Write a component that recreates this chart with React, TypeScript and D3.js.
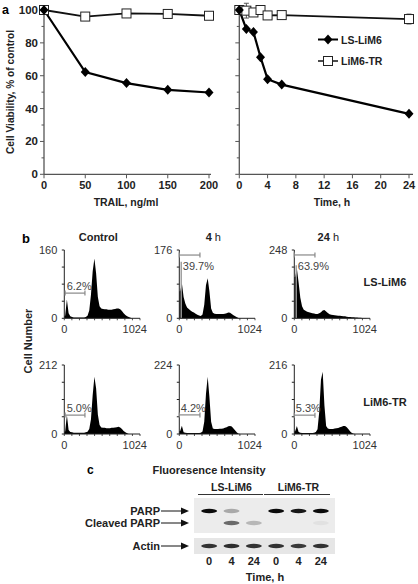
import React from 'react';
import * as d3 from 'd3';

// ---------- Panel a data ----------
const doses = [0, 50, 100, 150, 200];
const doseLS = [100, 62.2, 55.5, 51.4, 49.8];
const doseLSErr = [0, 1.2, 1.2, 1.6, 1.2];
const doseTR = [100, 96, 97.9, 97.6, 96.5];
const doseTRErr = [0, 1, 1, 1, 1];
const times = [0, 1, 2, 3, 4, 6, 24];
const timeLS = [100, 88.4, 86.6, 71.3, 57.9, 54.6, 36.8];
const timeLSErr = [0, 1, 1, 1.5, 1.5, 1, 1.5];
const timeTR = [100, 99.6, 98.5, 100, 96.7, 96.9, 94.5];
const timeTRErr = [0, 4.5, 2, 1, 1.5, 1.5, 3];
const viabilityTicks = [0, 20, 40, 60, 80, 100];
const doseTicks = [0, 50, 100, 150, 200];
const timeTicks = [0, 4, 8, 12, 16, 20, 24];
const seriesNames = ['LS-LiM6', 'LiM6-TR'];

// ---------- Panel b data (DNA content histograms, 25-channel bins) ----------
const histBin = 25;
const histDomainMax = 1100;
const histColTitles = ['Control', '4', '24'];
const histRowLabels = ['LS-LiM6', 'LiM6-TR'];
const histLSControl = [6, 44, 12, 5, 3, 2, 2, 2, 2, 2, 2, 2, 3, 6, 18, 55, 110, 140, 105, 50, 28, 23, 22, 21, 21, 20, 20, 20, 21, 22, 23, 23, 21, 17, 12, 8, 5, 3, 1, 0, 0, 0, 0, 0];
const histLS4h = [70, 90, 55, 38, 28, 24, 20, 17, 15, 12, 9, 7, 6, 10, 35, 85, 103, 70, 25, 14, 12, 11, 11, 11, 11, 11, 12, 13, 15, 14, 11, 8, 5, 3, 1, 0, 0, 0, 0, 0, 0, 0, 0, 0];
const histLS24h = [150, 180, 130, 75, 44, 31, 27, 24, 22, 20, 18, 17, 16, 16, 18, 22, 28, 30, 25, 19, 15, 13, 12, 11, 10, 9, 9, 8, 7, 7, 6, 5, 5, 4, 4, 3, 3, 2, 2, 1, 1, 1, 0, 0];
const histTRControl = [8, 58, 12, 6, 5, 4, 4, 4, 4, 4, 4, 4, 5, 7, 15, 45, 120, 176, 140, 60, 28, 20, 19, 19, 18, 18, 18, 19, 19, 20, 21, 22, 20, 15, 9, 5, 2, 0, 0, 0, 0, 0, 0, 0];
const histTR4h = [10, 27, 6, 4, 3, 3, 3, 3, 3, 3, 3, 3, 4, 8, 40, 130, 186, 120, 40, 18, 16, 16, 16, 17, 17, 18, 20, 22, 25, 26, 24, 18, 11, 5, 1, 0, 0, 0, 0, 0, 0, 0, 0, 0];
const histTR24h = [9, 25, 6, 4, 3, 3, 3, 3, 3, 3, 3, 4, 6, 15, 70, 170, 195, 90, 25, 17, 16, 16, 16, 17, 18, 19, 21, 23, 25, 25, 21, 15, 8, 3, 1, 0, 0, 0, 0, 0, 0, 0, 0, 0];
const histLS = [histLSControl, histLS4h, histLS24h];
const histTR = [histTRControl, histTR4h, histTR24h];
const histMaxLS = [160, 176, 248];
const histMaxTR = [212, 224, 216];
const histPctLS = ['6.2%', '39.7%', '63.9%'];
const histPctTR = ['5.0%', '4.2%', '5.3%'];
const gateStartLS = [12, 0, 0];
const gateStartTR = [12, 0, 0];
const gateEnd = 300;
const gateLevelLS = [59, 163, 230];
const gateLevelTR = [58, 62, 59];
const spikeLS = [0, 146, 193];
const spikeTR = [0, 0, 0];

// ---------- Panel c data (western blot) ----------
const laneTimes = ['0', '4', '24', '0', '4', '24'];
const parpBand = [0.95, 0.28, 0, 0.95, 0.9, 0.95];
const cleavedBand = [0, 0.55, 0.22, 0, 0, 0.04];
const actinBand = [0.78, 0.8, 0.78, 0.78, 0.75, 0.78];

const FONT = 'Liberation Sans, Arial, Helvetica, sans-serif';

function Diamond({ x, y }: { x: number; y: number }) {
  return <path d={`M${x},${y - 5}L${x + 4.5},${y}L${x},${y + 5}L${x - 4.5},${y}Z`} fill="#000" />;
}
function Square({ x, y }: { x: number; y: number }) {
  return <rect x={x - 4.5} y={y - 4.5} width={9} height={9} fill="#fff" stroke="#222" strokeWidth={1} />;
}

function LinePanel({ xs, xScale, yScale, ls, lsErr, tr, trErr, xTicks, xEnd, showYLabels }: any) {
  const line = d3.line<number>().x((_, i) => xScale(xs[i])).y((d) => yScale(d));
  const x0 = xScale(0);
  const y0 = yScale(0);
  const minor = d3.range(0, 101, 10);
  return (
    <g>
      {/* error bars */}
      {tr.map((v: number, i: number) =>
        trErr[i] > 0 ? (
          <g key={'te' + i} stroke="#555" strokeWidth={1}>
            <line x1={xScale(xs[i])} x2={xScale(xs[i])} y1={yScale(v - trErr[i])} y2={yScale(v + trErr[i])} />
            <line x1={xScale(xs[i]) - 2.5} x2={xScale(xs[i]) + 2.5} y1={yScale(v + trErr[i])} y2={yScale(v + trErr[i])} />
            <line x1={xScale(xs[i]) - 2.5} x2={xScale(xs[i]) + 2.5} y1={yScale(v - trErr[i])} y2={yScale(v - trErr[i])} />
          </g>
        ) : null
      )}
      {ls.map((v: number, i: number) =>
        lsErr[i] > 0 ? (
          <g key={'le' + i} stroke="#333" strokeWidth={1}>
            <line x1={xScale(xs[i])} x2={xScale(xs[i])} y1={yScale(v - lsErr[i])} y2={yScale(v + lsErr[i])} />
          </g>
        ) : null
      )}
      <path d={line(tr) || ''} fill="none" stroke="#111" strokeWidth={1.8} />
      <path d={line(ls) || ''} fill="none" stroke="#000" strokeWidth={2.2} />
      {/* axes */}
      <line x1={x0} x2={x0} y1={y0} y2={yScale(100) - 4} stroke="#555" strokeWidth={1.3} />
      <line x1={x0} x2={xEnd} y1={y0} y2={y0} stroke="#555" strokeWidth={1.3} />
      {minor.map((t) => (
        <line key={'yt' + t} x1={x0 - (t % 20 === 0 ? 4 : 2.5)} x2={x0} y1={yScale(t)} y2={yScale(t)} stroke="#555" strokeWidth={1} />
      ))}
      {showYLabels &&
        viabilityTicks.map((t) => (
          <text key={'yl' + t} x={x0 - 6} y={yScale(t) + 4} textAnchor="end" fontSize={11.5} fontWeight="bold" fill="#222">
            {t}
          </text>
        ))}
      {xTicks.map((t: number) => (
        <g key={'xt' + t}>
          <line x1={xScale(t)} x2={xScale(t)} y1={y0} y2={y0 + 4} stroke="#555" strokeWidth={1} />
          <text x={xScale(t)} y={y0 + 15} textAnchor="middle" fontSize={11} fontWeight="bold" fill="#222">
            {t}
          </text>
        </g>
      ))}
      {tr.map((v: number, i: number) => (
        <Square key={'sq' + i} x={xScale(xs[i])} y={yScale(v)} />
      ))}
      {ls.map((v: number, i: number) => (
        <Diamond key={'dm' + i} x={xScale(xs[i])} y={yScale(v)} />
      ))}
    </g>
  );
}

function Histogram({ left, top, bottom, data, max, pct, gateStart, gateLevel, spike }: any) {
  const width = 75.7;
  const x = d3.scaleLinear([0, histDomainMax], [left, left + width]);
  const y = d3.scaleLinear([0, max], [bottom, top]);
  const pts: [number, number][] = [[0, data[0]]];
  data.forEach((v: number, i: number) => pts.push([i * histBin + histBin / 2, v]));
  pts.push([data.length * histBin, 0]);
  const area = d3
    .area<[number, number]>()
    .x((d) => x(d[0]))
    .y0(y(0))
    .y1((d) => y(d[1]));
  const below = gateLevel > max * 0.6;
  const ticksX = d3.range(0, histDomainMax + 1, 110);
  const ticksY = d3.range(0, 5).map((k) => (max * k) / 4);
  return (
    <g fontFamily={FONT}>
      <path d={area(pts) || ''} fill="#000" />
      {spike > 0 && <line x1={x(28)} x2={x(28)} y1={y(0)} y2={y(spike)} stroke="#9a9a9a" strokeWidth={1.4} />}
      <line x1={left} x2={left} y1={bottom} y2={top} stroke="#222" strokeWidth={1} />
      <line x1={left} x2={left + width} y1={bottom} y2={bottom} stroke="#222" strokeWidth={1} />
      {ticksY.map((t, k) => (
        <line key={'ty' + k} x1={left - 2.5} x2={left} y1={y(t)} y2={y(t)} stroke="#222" strokeWidth={1} />
      ))}
      {ticksX.map((t) => (
        <line key={'tx' + t} x1={x(t)} x2={x(t)} y1={bottom} y2={bottom + 2} stroke="#222" strokeWidth={0.8} />
      ))}
      <text x={left - 7} y={top + 4} textAnchor="end" fontSize={11} fill="#333">{max}</text>
      <text x={left - 7} y={bottom + 4} textAnchor="end" fontSize={11} fill="#333">0</text>
      <text x={x(0)} y={bottom + 15} textAnchor="middle" fontSize={11} fill="#333">0</text>
      <text x={x(1024)} y={bottom + 15} textAnchor="middle" fontSize={11} fill="#333">1024</text>
      {/* gate bracket */}
      <g stroke="#888" strokeWidth={1.2}>
        <line x1={x(gateStart)} x2={x(gateEnd)} y1={y(gateLevel)} y2={y(gateLevel)} />
        <line x1={x(gateStart)} x2={x(gateStart)} y1={y(gateLevel) - 2.5} y2={y(gateLevel) + 2.5} />
        <line x1={x(gateEnd)} x2={x(gateEnd)} y1={y(gateLevel) - 2.5} y2={y(gateLevel) + 2.5} />
      </g>
      <text x={x(gateStart) + (below ? 3.5 : 1.5)} y={y(gateLevel) + (below ? 15 : -3)} fontSize={11} fill="#444">
        {pct}
      </text>
    </g>
  );
}

function Band({ cx, cy, v }: { cx: number; cy: number; v: number }) {
  if (v <= 0) return null;
  return <ellipse cx={cx} cy={cy} rx={8} ry={2.2} fill="#000" opacity={v} filter="url(#blur)" />;
}

export default function App() {
  const yV = d3.scaleLinear([0, 100], [174.3, 10]);
  const xDose = d3.scaleLinear([0, 200], [44, 209]);
  const xTime = d3.scaleLinear([0, 24], [239.3, 409]);

  const histLefts = [64.3, 179.3, 294.3];
  const lane = d3.scaleBand<number>(d3.range(laneTimes.length), [198, 332]);
  const laneX = (i: number) => (lane(i) as number) + lane.bandwidth() / 2;

  return (
    <div style={{ position: 'absolute', left: 0, top: 0 }}>
      <svg width={418} height={584} fontFamily={FONT} style={{ display: 'block', background: '#fff' }}>
        <defs>
          <filter id="blur" x="-20%" y="-100%" width="140%" height="300%">
            <feGaussianBlur stdDeviation={0.7} />
          </filter>
        </defs>
        {/* Panel a */}
        <text x={2} y={14} fontSize={12.5} fontWeight="bold">a</text>
        <text transform={`translate(14,${92}) rotate(-90)`} textAnchor="middle" fontSize={10.2} fontWeight="bold" fill="#222">
          Cell Viability, % of control
        </text>
        <LinePanel xs={doses} xScale={xDose} yScale={yV} ls={doseLS} lsErr={doseLSErr} tr={doseTR} trErr={doseTRErr} xTicks={doseTicks} xEnd={211} showYLabels />
        <LinePanel xs={times} xScale={xTime} yScale={yV} ls={timeLS} lsErr={timeLSErr} tr={timeTR} trErr={timeTRErr} xTicks={timeTicks} xEnd={413} showYLabels={false} />
        <text x={126} y={206} textAnchor="middle" fontSize={10.5} fontWeight="bold" fill="#222">TRAIL, ng/ml</text>
        <text x={332} y={206} textAnchor="middle" fontSize={10.5} fontWeight="bold" fill="#222">Time, h</text>
        {/* legend */}
        <line x1={318} x2={338} y1={39.5} y2={39.5} stroke="#000" strokeWidth={2} />
        <Diamond x={328} y={39.5} />
        <text x={341} y={43.5} fontSize={10.5} fontWeight="bold" fill="#222">{seriesNames[0]}</text>
        <line x1={318} x2={338} y1={61} y2={61} stroke="#111" strokeWidth={1.5} />
        <Square x={328} y={61} />
        <text x={341} y={65} fontSize={10.5} fontWeight="bold" fill="#222">{seriesNames[1]}</text>

        {/* Panel b */}
        <text x={22} y={243} fontSize={13} fontWeight="bold">b</text>
        {histColTitles.map((t, i) => (
          <text key={'ct' + i} x={histLefts[i] + 34} y={241} textAnchor="middle" fontSize={11} fontWeight="bold" fill="#222">
            {t}
            {i > 0 && <tspan fontWeight="normal"> h</tspan>}
          </text>
        ))}
        <text transform="translate(32,341) rotate(-90)" textAnchor="middle" fontSize={11} fontWeight="bold" fill="#222">Cell Number</text>
        {histLS.map((h, i) => (
          <Histogram key={'hl' + i} left={histLefts[i]} top={250} bottom={318.3} data={h} max={histMaxLS[i]} pct={histPctLS[i]} gateStart={gateStartLS[i]} gateLevel={gateLevelLS[i]} spike={spikeLS[i]} />
        ))}
        {histTR.map((h, i) => (
          <Histogram key={'ht' + i} left={histLefts[i]} top={365} bottom={434} data={h} max={histMaxTR[i]} pct={histPctTR[i]} gateStart={gateStartTR[i]} gateLevel={gateLevelTR[i]} spike={spikeTR[i]} />
        ))}
        <text x={385} y={286} textAnchor="middle" fontSize={11} fontWeight="bold" fill="#222">{histRowLabels[0]}</text>
        <text x={385} y={406} textAnchor="middle" fontSize={11} fontWeight="bold" fill="#222">{histRowLabels[1]}</text>

        {/* Panel c */}
        <text x={87} y={474} fontSize={12} fontWeight="bold">c</text>
        <text x={209} y={474} textAnchor="middle" fontSize={11} fontWeight="bold" fill="#222">Fluoresence Intensity</text>
        <text x={(laneX(0) + laneX(2)) / 2} y={491} textAnchor="middle" fontSize={10.5} fontWeight="bold" fill="#222">{seriesNames[0]}</text>
        <line x1={lane(0)} x2={(lane(2) as number) + lane.bandwidth() - 2} y1={494.5} y2={494.5} stroke="#333" strokeWidth={1} />
        <text x={(laneX(3) + laneX(5)) / 2} y={491} textAnchor="middle" fontSize={10.5} fontWeight="bold" fill="#222">{seriesNames[1]}</text>
        <line x1={(lane(3) as number) - 1} x2={(lane(5) as number) + lane.bandwidth() - 2} y1={494.5} y2={494.5} stroke="#333" strokeWidth={1} />
        <rect x={194} y={498} width={141} height={35} fill="#ececec" />
        <rect x={194} y={538} width={141} height={16} fill="#e6e6e6" />
        {parpBand.map((v, i) => <Band key={'p' + i} cx={laneX(i)} cy={511} v={v} />)}
        {cleavedBand.map((v, i) => <Band key={'c' + i} cx={laneX(i)} cy={523} v={v} />)}
        {actinBand.map((v, i) => <Band key={'a' + i} cx={laneX(i)} cy={546} v={v} />)}
        {[
          ['PARP', 511],
          ['Cleaved PARP', 523],
          ['Actin', 546],
        ].map(([label, yy]) => (
          <g key={label as string}>
            <text x={160} y={(yy as number) + 4} textAnchor="end" fontSize={11} fontWeight="bold" fill="#222">{label}</text>
            <line x1={161} x2={184} y1={yy as number} y2={yy as number} stroke="#111" strokeWidth={1} />
            <path d={`M${189},${yy}L${181},${(yy as number) - 3.5}L${181},${(yy as number) + 3.5}Z`} fill="#111" />
          </g>
        ))}
        {laneTimes.map((t, i) => (
          <text key={'lt' + i} x={laneX(i)} y={565} textAnchor="middle" fontSize={11} fontWeight="bold" fill="#222">{t}</text>
        ))}
        <text x={265} y={581} textAnchor="middle" fontSize={11} fontWeight="bold" fill="#222">Time, h</text>
      </svg>
    </div>
  );
}
